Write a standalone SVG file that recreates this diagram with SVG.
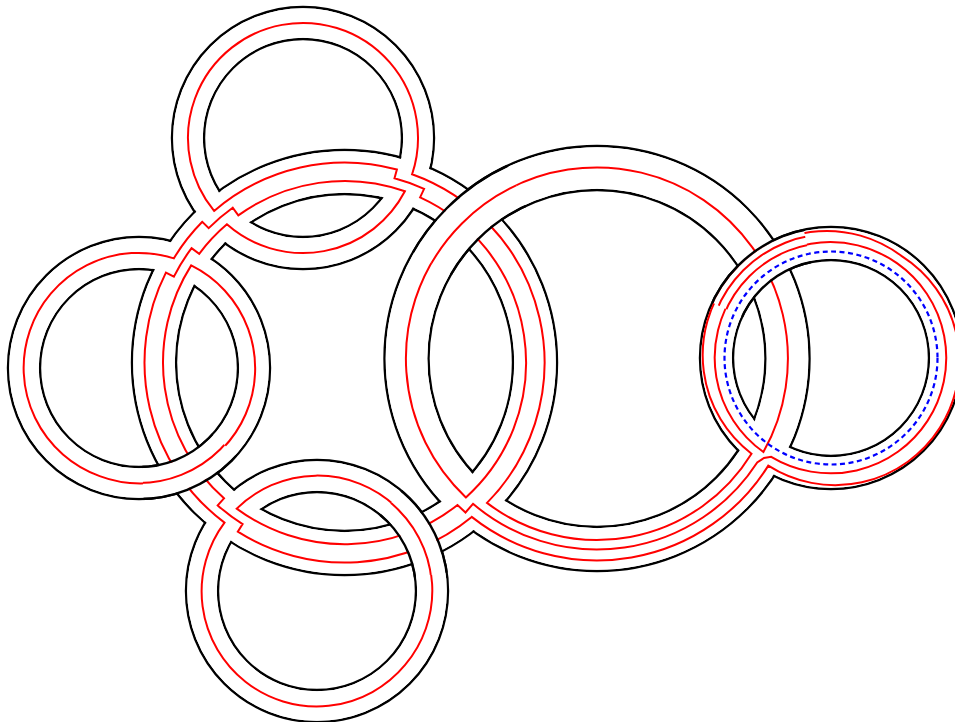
<svg xmlns="http://www.w3.org/2000/svg" width="955" height="722" viewBox="0 0 955 722">
<style>
.k{fill:none;stroke:#000;stroke-width:2.4}
.w{fill:none;stroke:#fff}
.ws{stroke-width:29.6}
.wb{stroke-width:41.6}
.wS{stroke-width:30.6}
.r{fill:none;stroke:#f00;stroke-width:2;stroke-linejoin:miter;stroke-miterlimit:6}
.b{fill:none;stroke:#00f;stroke-width:2.2;stroke-dasharray:5 3.5}
</style>
<defs>
<clipPath id="cL"><polygon points="139,368 250.5,468.4 227.2,489.4 200,505 170.2,514.7 144.2,517.9"/></clipPath>
<clipPath id="cB"><polygon points="317,591 413.4,476.1 432.7,495.6 448.2,518.3 459.2,543.4 465.5,570.1"/></clipPath>
<clipPath id="cR"><polygon points="597,358.5 397.8,243.5 417.6,214.6 441.6,188.9 469.2,167.3 499.8,150.1"/></clipPath>
<clipPath id="cS"><polygon points="831,358 699.6,296.7 717.2,268.2 740.7,244.5 769.1,226.9 800.9,216.2"/></clipPath>
</defs>
<rect width="955" height="722" fill="#fff"/>
<g id="ring-outlines">
<g id="ring-top"><circle class="k" cx="303" cy="138" r="131"/><circle class="k" cx="303" cy="138" r="99"/></g>
<g id="ring-left"><circle class="k" cx="139" cy="368" r="131"/><circle class="k" cx="139" cy="368" r="99"/></g>
<g id="ring-bottom"><circle class="k" cx="317" cy="591" r="131"/><circle class="k" cx="317" cy="591" r="99"/></g>
<g id="ring-center"><circle class="k" cx="344.5" cy="362.5" r="212.5"/><circle class="k" cx="344.5" cy="362.5" r="168.5"/></g>
<g id="ring-big-right"><circle class="k" cx="597" cy="358.5" r="212.5"/><circle class="k" cx="597" cy="358.5" r="168.5"/></g>
<g id="ring-small-right"><circle class="k" cx="831" cy="358" r="131"/><circle class="k" cx="831" cy="358" r="98"/></g>
</g>
<g id="ring-bands">
<circle class="w ws" cx="303" cy="138" r="115"/>
<circle class="w ws" cx="139" cy="368" r="115"/>
<circle class="w ws" cx="317" cy="591" r="115"/>
<circle class="w wb" cx="344.5" cy="362.5" r="190.5"/>
<circle class="w wb" cx="597" cy="358.5" r="190.5"/>
<circle class="w wS" cx="831" cy="358" r="114.5"/>
</g>
<g id="connectors">
<path class="r" d="M751.5 453.7 A181.5 181.5 0 0 1 487 502.9 A200 200 0 0 0 412.1 174.3 A115 115 0 1 0 214.1 210.9 A200 200 0 0 1 396.9 169.5 L394.5 178.2 A191 191 0 0 1 424.1 188.8 L420.1 197.4 A181.5 181.5 0 0 1 465.9 497.4 A191 191 0 1 1 763.4 452 A115.5 115.5 0 0 1 897.25 263.4 A115.5 115.5 0 0 1 771.2 456.8 L764 458 L757.2 462.5 A191 191 0 0 1 473 503.8 L465.5 512.5 L457.5 505 A181.5 181.5 0 0 1 236.7 508.6 A115 115 0 0 1 405.1 664.9 A115 115 0 0 1 224.5 522.6 A200 200 0 0 1 165.9 272.6 L173.9 276.6 A191 191 0 0 1 191.6 248.1 L199.2 253.8 A181.5 181.5 0 0 1 226.9 224.3 A115 115 0 0 0 404.9 191.3 A181.5 181.5 0 0 0 238.3 215.4 L232.7 207.7 A191 191 0 0 0 208.7 228.1 L202.3 221.8 A200 200 0 0 0 173.8 258.4 A115 115 0 0 0 99.7 476.1 A115 115 0 0 0 191.2 265.4 A181.5 181.5 0 0 0 224 498.3 L217.7 505.4 A191 191 0 0 0 242.6 524.1 L237.8 531.7 A200 200 0 0 0 471.7 516.9 A202 202 0 0 0 768.3 465.6 A124 124 0 0 0 902.1 256.4 A124 124 0 0 0 751.5 453.7 Z"/>
<circle class="b" cx="831" cy="358" r="106.5"/>
</g>
<g id="crossings">
<g clip-path="url(#cL)">
<circle class="w ws" cx="139" cy="368" r="115"/>
<circle class="k" cx="139" cy="368" r="131"/><circle class="k" cx="139" cy="368" r="99"/>
<circle class="r" cx="139" cy="368" r="115"/>
</g>
<g clip-path="url(#cB)">
<circle class="w ws" cx="317" cy="591" r="115"/>
<circle class="k" cx="317" cy="591" r="131"/><circle class="k" cx="317" cy="591" r="99"/>
<circle class="r" cx="317" cy="591" r="115"/>
</g>
<g clip-path="url(#cR)">
<circle class="w wb" cx="597" cy="358.5" r="190.5"/>
<circle class="k" cx="597" cy="358.5" r="212.5"/><circle class="k" cx="597" cy="358.5" r="168.5"/>
<circle class="r" cx="597" cy="358.5" r="191"/>
</g>
<g clip-path="url(#cS)">
<circle class="w wS" cx="831" cy="358" r="114.5"/>
<circle class="k" cx="831" cy="358" r="131"/><circle class="k" cx="831" cy="358" r="98"/>
<circle class="r" cx="831" cy="358" r="124"/><circle class="r" cx="831" cy="358" r="115.5"/>
<circle class="b" cx="831" cy="358" r="106.5"/>
</g>
</g>
</svg>
